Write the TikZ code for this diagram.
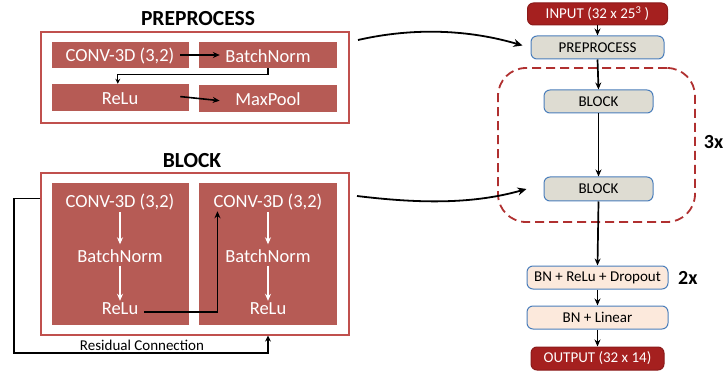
\documentclass[tikz,border=0pt]{standalone}
\usepackage{fontspec}
\setmainfont{Carlito}
\usetikzlibrary{arrows.meta,calc,fit}
\definecolor{boxred}{HTML}{B65B55}
\definecolor{outred}{HTML}{C0504D}
\definecolor{darkred}{HTML}{A5201F}
\definecolor{darkredb}{HTML}{8B1A1A}
\definecolor{greyfill}{HTML}{DEDCD2}
\definecolor{peach}{HTML}{FCE9DC}
\definecolor{blueb}{HTML}{4A7EBB}
\definecolor{dashred}{HTML}{B03030}
\begin{document}
\begin{tikzpicture}[x=1pt,y=-1pt,
  redbox/.style={fill=boxred,draw=none,inner sep=0pt},
  outerbox/.style={draw=outred,line width=1.2pt,inner sep=0pt},
  wtxt/.style={text=white,font=\fontsize{18.5}{22}\selectfont,inner sep=2pt},
  ttl/.style={font=\bfseries\fontsize{21.5}{25}\selectfont},
  barr/.style={-{Stealth[length=7pt,width=6pt]},line width=1.6pt},
  warr/.style={-{Stealth[length=7pt,width=6pt]},line width=1.6pt,white},
  carr/.style={-{Stealth[length=7pt,width=6pt]},line width=1.7pt},
  rbox/.style={rounded corners=6pt,line width=1pt,font=\fontsize{15}{18}\selectfont,inner sep=0pt},
  greybox/.style={rbox,fill=greyfill,draw=blueb},
  peachbox/.style={rbox,fill=peach,draw=blueb},
  darkbox/.style={rbox,fill=darkred,draw=darkredb,text=white}
]
\useasboundingbox (0,0) rectangle (725,374);
\clip (0,0) rectangle (725,374);

% ---------- PREPROCESS detail ----------
\node[ttl] (tpre) at (198,19) {PREPROCESS};
\node[outerbox,fit={(41,32) (349,123)}] (pouter) {};
\node[redbox,fit={(52,42) (189,68)}] (pc) {};
\node[redbox,fit={(199,42) (337,68)}] (pb) {};
\node[redbox,fit={(52,84) (189,111)}] (pr) {};
\node[redbox,fit={(199,85) (337,112)}] (pm) {};
\node[wtxt] (pct) at (120,56) {CONV-3D (3,2)};
\node[wtxt] (pbt) at (268,56) {BatchNorm};
\node[wtxt] (prt) at (120,99) {ReLu};
\node[wtxt] (pmt) at (268,99) {MaxPool};
\draw[barr,shorten <=-9pt,shorten >=-21pt] (pc.east) -- (pb.west);
\draw[barr,shorten <=-9pt,shorten >=-21pt] (pr.east) -- (pm.west);
\draw[-{Stealth[length=5pt,width=5pt]},line width=1.3pt] (pb.south) -- ++(0,6) -| ($(pr.north west)+(66,0)$);

% ---------- BLOCK detail ----------
\node[ttl] (tblk) at (192,161) {BLOCK};
\node[outerbox,fit={(41,173) (349,335)}] (bouter) {};
\node[redbox,fit={(52,183) (189,325)}] (bl) {};
\node[redbox,fit={(199,183) (337,325)}] (br) {};
\node[wtxt] (c1) at (120,202) {CONV-3D (3,2)};
\node[wtxt] (b1) at (120,256) {BatchNorm};
\node[wtxt] (r1) at (120,309) {ReLu};
\node[wtxt] (c2) at (268,202) {CONV-3D (3,2)};
\node[wtxt] (b2) at (268,256) {BatchNorm};
\node[wtxt] (r2) at (268,309) {ReLu};
\draw[warr,shorten <=0pt,shorten >=3pt] (c1.south) -- (b1.north);
\draw[warr,shorten <=1pt,shorten >=0pt] (b1.south) -- (r1.north);
\draw[warr,shorten <=0pt,shorten >=3pt] (c2.south) -- (b2.north);
\draw[warr,shorten <=1pt,shorten >=0pt] (b2.south) -- (r2.north);
\coordinate (rs1) at ($(r1.east)+(4,3)$);
\coordinate (rs2) at ($(c2.south west)+(6,-1)$);
\draw[barr] (rs1) -| (rs2);
% residual
\coordinate (res0) at ($(bouter.north west)+(0,26)$);
\coordinate (resl) at (14,353);
\coordinate (resr) at (268,353);
\draw[-{Stealth[length=6pt,width=6pt]},line width=1.5pt] (res0) -- (res0 -| resl) -- (resl) -- (resr) -- (bouter.south -| resr);
\node[font=\fontsize{15}{18}\selectfont,inner sep=1pt] (reslab) at (142,345) {Residual Connection};

% ---------- Right column ----------
\node[darkbox,minimum width=140pt,minimum height=22pt] (inp) at (597.5,14) {INPUT (32 x 25\textsuperscript{3} )};
\node[greybox,minimum width=133pt,minimum height=23pt] (pre) at (597.5,47.5) {PREPROCESS};
\node[draw=dashred,line width=1.8pt,dash pattern=on 9pt off 5pt,rounded corners=28pt,inner sep=0pt,fit={(498,68) (695,222)}] (loop) {};
\node[greybox,minimum width=109pt,minimum height=23pt] (blk1) at (598.5,101.5) {BLOCK};
\node[greybox,minimum width=109pt,minimum height=24pt] (blk2) at (598.5,189) {BLOCK};
\node[peachbox,minimum width=141pt,minimum height=23pt] (bnr) at (597.5,277.5) {BN + ReLu + Dropout};
\node[peachbox,minimum width=141pt,minimum height=23pt] (bnl) at (597.5,317.5) {BN + Linear};
\node[darkbox,minimum width=133pt,minimum height=23pt] (out) at (597.5,358.5) {OUTPUT (32 x 14)};
\node[font=\bfseries\fontsize{20}{24}\selectfont,anchor=east,inner sep=0pt] (three) at (723.5,142) {3x};
\node[font=\bfseries\fontsize{20}{24}\selectfont,anchor=west,inner sep=0pt] (two) at (678,278) {2x};

\draw[carr] (inp.south) -- (pre.north);
\draw[carr] (pre.south) -- (blk1.north);
\draw[carr] (blk1.south) -- (blk2.north);
\draw[carr] (blk2.south) -- (bnr.north);
\draw[carr] (bnr.south) -- (bnl.north);
\draw[carr] (bnl.south) -- (out.north);

% ---------- big curved arrows ----------
\coordinate (ca0) at (358,40);
\coordinate (ca1) at ($(pre.west)+(-8,-2)$);
\draw[-{Stealth[length=9pt,width=8pt]},line width=1.8pt] (ca0) .. controls (415,27) and (470,30) .. (ca1);
\coordinate (cb0) at (357,196);
\coordinate (cb1) at ($(blk2.west)+(-17,0)$);
\draw[-{Stealth[length=9pt,width=8pt]},line width=1.8pt] (cb0) .. controls (415,203) and (470,205) .. (cb1);
\end{tikzpicture}
\end{document}
